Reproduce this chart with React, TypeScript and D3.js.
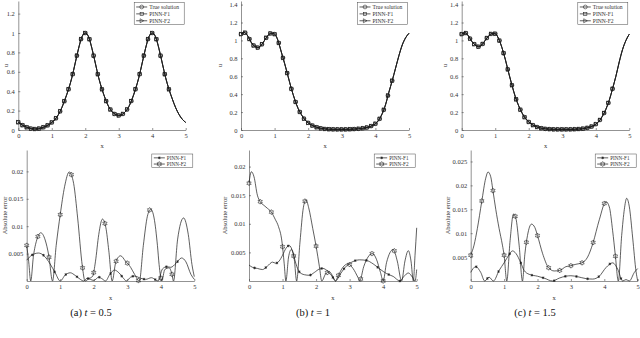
import React, { useEffect, useRef } from 'react';
import * as d3 from 'd3';

const W = 640;
const H = 338;

// sample grid for the solution curves (x = 0, 0.1, ..., 5)
const xGrid = d3.range(0, 51).map(i => i / 10);

// u(x, t) read from the top row (PINN predictions sit on top of it)
const uT05 = [
  0.08, 0.055, 0.035, 0.022, 0.013, 0.01, 0.013, 0.022, 0.035, 0.053, 0.078,
  0.11, 0.16, 0.23, 0.32, 0.42, 0.54, 0.69, 0.84, 0.96, 1.0,
  0.96, 0.84, 0.69, 0.54, 0.42, 0.32, 0.24, 0.19, 0.16, 0.15,
  0.16, 0.19, 0.24, 0.32, 0.42, 0.54, 0.69, 0.84, 0.96, 1.0,
  0.96, 0.84, 0.69, 0.54, 0.42, 0.32, 0.23, 0.16, 0.11, 0.078,
];
const uT1 = [
  1.07, 1.09, 1.05, 0.98, 0.935, 0.92, 0.945, 1.0, 1.055, 1.08, 1.07,
  1.0, 0.87, 0.74, 0.6, 0.46, 0.34, 0.24, 0.17, 0.115, 0.08,
  0.055, 0.037, 0.025, 0.017, 0.012, 0.009, 0.008, 0.007, 0.007, 0.007,
  0.007, 0.008, 0.009, 0.011, 0.014, 0.018, 0.024, 0.033, 0.048, 0.07,
  0.11, 0.18, 0.28, 0.42, 0.55, 0.69, 0.83, 0.95, 1.03, 1.08,
];
const uT15 = [
  1.07, 1.085, 1.05, 0.99, 0.95, 0.93, 0.95, 1.0, 1.05, 1.075, 1.075,
  1.02, 0.92, 0.79, 0.64, 0.5, 0.37, 0.27, 0.19, 0.13, 0.09,
  0.06, 0.04, 0.027, 0.018, 0.013, 0.01, 0.008, 0.007, 0.007, 0.007,
  0.007, 0.007, 0.008, 0.009, 0.011, 0.014, 0.02, 0.029, 0.043, 0.065,
  0.1, 0.155, 0.23, 0.33, 0.46, 0.6, 0.76, 0.9, 1.0, 1.07,
];
const uSeries = [uT05, uT1, uT15];
const uMax = [1.33, 1.44, 1.44];
const uTicks = [
  [0, 0.2, 0.4, 0.6, 0.8, 1, 1.2],
  [0, 0.2, 0.4, 0.6, 0.8, 1, 1.2, 1.4],
  [0, 0.2, 0.4, 0.6, 0.8, 1, 1.2, 1.4],
];

// absolute error, [x, error]
const errF1a: [number, number][] = [
  [0, 0.0038], [0.15, 0.0047], [0.35, 0.0051], [0.5, 0.0047], [0.7, 0.0031], [0.85, 0.0015], [1.0, 0],
  [1.15, 0.0011], [1.3, 0.0015], [1.45, 0.001], [1.6, 0.0003], [1.7, 0], [1.8, 0.0005], [1.9, 0.0003],
  [2.0, 0.0001], [2.15, 0.0007], [2.25, 0.0004], [2.35, 0], [2.48, 0.0012], [2.62, 0.002], [2.75, 0.0015],
  [2.9, 0.0004], [2.97, 0], [3.1, 0.0007], [3.22, 0.0009], [3.4, 0.0005], [3.55, 0.0003], [3.72, 0.0006],
  [3.85, 0.0002], [3.92, 0], [4.05, 0.0022], [4.18, 0.0026], [4.3, 0.0025], [4.45, 0.0032], [4.62, 0.0042],
  [4.75, 0.0035], [4.9, 0.0012], [5, 0.0003],
];
const errF2a: [number, number][] = [
  [0, 0.0065], [0.06, 0.0035], [0.12, 0], [0.2, 0.0045], [0.3, 0.0075], [0.42, 0.0088], [0.55, 0.0075],
  [0.66, 0.0046], [0.77, 0], [0.88, 0.0065], [1.0, 0.0121], [1.13, 0.0172], [1.27, 0.0199], [1.4, 0.0178],
  [1.52, 0.0115], [1.66, 0.0027], [1.74, 0], [1.85, 0.0004], [1.97, 0.0009], [2.05, 0.0035], [2.15, 0.0085],
  [2.26, 0.0113], [2.36, 0.0098], [2.45, 0.0055], [2.55, 0], [2.66, 0.0035], [2.8, 0.0046], [2.95, 0.0036],
  [3.1, 0.0025], [3.22, 0.0012], [3.36, 0], [3.48, 0.0065], [3.6, 0.0118], [3.7, 0.0131], [3.8, 0.0115],
  [3.9, 0.0065], [3.95, 0.003], [4.03, 0], [4.12, 0.0021], [4.25, 0.0024], [4.33, 0.0013], [4.38, 0],
  [4.5, 0.0075], [4.68, 0.0115], [4.82, 0.0085], [4.93, 0.003], [5, 0.0008],
];
const errF1b: [number, number][] = [
  [0, 0.0028], [0.1, 0.0024], [0.25, 0.0022], [0.4, 0.002], [0.55, 0.0026], [0.7, 0.0033], [0.8, 0.0031],
  [0.9, 0.0035], [1.0, 0.0045], [1.1, 0.0057], [1.2, 0.0062], [1.3, 0.0052], [1.4, 0.003], [1.5, 0.0016],
  [1.65, 0.0011], [1.8, 0.001], [1.95, 0.0015], [2.1, 0.0021], [2.2, 0.0022], [2.35, 0.0017], [2.48, 0.0008],
  [2.58, 0], [2.72, 0.0012], [2.9, 0.0026], [3.1, 0.0034], [3.3, 0.0037], [3.5, 0.0036], [3.7, 0.003],
  [3.9, 0.0021], [4.1, 0.0013], [4.3, 0.0008], [4.5, 0], [4.62, 0.0008], [4.75, 0.0014], [4.88, 0.0006],
  [4.95, 0], [5, 0.002],
];
const errF2b: [number, number][] = [
  [0, 0.0171], [0.07, 0.0191], [0.15, 0.0182], [0.25, 0.015], [0.33, 0.0139], [0.45, 0.0132], [0.55, 0.0127],
  [0.66, 0.0121], [0.78, 0.0108], [0.88, 0.0095], [0.98, 0.007], [1.05, 0.003], [1.1, 0], [1.18, 0.0042],
  [1.26, 0.0055], [1.35, 0.0038], [1.42, 0], [1.52, 0.0068], [1.62, 0.0128], [1.7, 0.0142], [1.78, 0.0128],
  [1.9, 0.0092], [2.0, 0.0061], [2.1, 0.0025], [2.17, 0], [2.28, 0.0012], [2.4, 0.0016], [2.5, 0.0008],
  [2.58, 0], [2.65, 0.0008], [2.8, 0.0024], [2.95, 0.003], [3.1, 0.0022], [3.25, 0.0006], [3.3, 0],
  [3.42, 0.0025], [3.55, 0.0042], [3.68, 0.0048], [3.8, 0.0038], [3.92, 0.0015], [4.0, 0], [4.1, 0.0032],
  [4.3, 0.0055], [4.42, 0.0035], [4.55, 0], [4.65, 0.0035], [4.75, 0.0053], [4.83, 0.0035], [4.9, 0],
  [4.95, 0.0045], [5, 0.0093],
];
const errF1c: [number, number][] = [
  [0, 0.0018], [0.15, 0.003], [0.3, 0.0018], [0.42, 0], [0.55, 0.0008], [0.68, 0], [0.85, 0.0022],
  [1.0, 0.0038], [1.15, 0.0055], [1.25, 0.0063], [1.35, 0.0058], [1.5, 0.0038], [1.6, 0.0022], [1.75, 0.0014],
  [2.0, 0.001], [2.2, 0.0006], [2.45, 0], [2.65, 0.0006], [2.85, 0.001], [3.0, 0.0011], [3.2, 0.0009],
  [3.45, 0.0005], [3.65, 0.0004], [3.85, 0.001], [4.05, 0.0028], [4.25, 0.0038], [4.4, 0.0025], [4.55, 0],
  [4.65, 0.0003], [4.75, 0], [4.9, 0.0018], [5, 0.0026],
];
const errF2c: [number, number][] = [
  [0, 0.0054], [0.1, 0.0075], [0.2, 0.011], [0.33, 0.0166], [0.45, 0.0215], [0.52, 0.0228], [0.6, 0.0218],
  [0.66, 0.0192], [0.75, 0.015], [0.85, 0.011], [0.95, 0.0075], [1.0, 0.0054], [1.08, 0], [1.18, 0.0085],
  [1.28, 0.014], [1.35, 0.0132], [1.45, 0.0075], [1.55, 0], [1.62, 0.0055], [1.7, 0.0095], [1.82, 0.0119],
  [1.92, 0.0112], [2.0, 0.0095], [2.15, 0.0058], [2.33, 0.0028], [2.5, 0.0021], [2.66, 0.0022], [2.85, 0.003],
  [3.0, 0.0032], [3.15, 0.0035], [3.33, 0.0038], [3.5, 0.005], [3.66, 0.0079], [3.85, 0.0128], [4.05, 0.0166],
  [4.15, 0.0155], [4.25, 0.0105], [4.33, 0.0054], [4.42, 0], [4.52, 0.0095], [4.6, 0.015], [4.67, 0.0173],
  [4.75, 0.0155], [4.85, 0.009], [4.95, 0.002], [5, 0],
];
const errF1 = [errF1a, errF1b, errF1c];
const errF2 = [errF2a, errF2b, errF2c];
const errMax = [0.0239, 0.0229, 0.0274];
const errTicks = [
  [0.005, 0.01, 0.015, 0.02],
  [0.005, 0.01, 0.015, 0.02],
  [0.005, 0.01, 0.015, 0.02, 0.025],
];

const xTicks = [0, 1, 2, 3, 4, 5];
const topMarkX = d3.range(0, 37).map(i => i * 0.125);
const f2MarkX = d3.range(0, 14).map(i => i / 3);
const f1MarkX = d3.range(0, 14).map(i => 1 / 6 + i / 3);

const topLegend = ['True solution', 'PINN-F1', 'PINN-F2'];
const bottomLegend = ['PINN-F1', 'PINN-F2'];
const panelLetters = ['(a)', '(b)', '(c)'];
const tValues = ['0.5', '1', '1.5'];

// layout (pixels)
const topBox = [
  { l: 18.3, r: 185.7, ylab: 6 },
  { l: 241, r: 409, ylab: 220 },
  { l: 461.7, r: 629.3, ylab: 445 },
];
const botBox = [
  { l: 26.7, r: 194.3, ylab: 5 },
  { l: 249, r: 416.7, ylab: 225 },
  { l: 470.7, r: 637.7, ylab: 447.7 },
];
const topY = [130, 1];
const botY = [281, 150];
const captionX = [91, 313, 535];

const INK = '#1a1a1a';
const AX = '#4a4a4a';
const TXT = '#333';
const FONT = 'Liberation Serif, DejaVu Serif, serif';

function pointAtX(path: SVGPathElement, px: number) {
  const total = path.getTotalLength();
  let lo = 0;
  let hi = total;
  for (let i = 0; i < 40; i++) {
    const mid = (lo + hi) / 2;
    if (path.getPointAtLength(mid).x < px) lo = mid;
    else hi = mid;
  }
  return path.getPointAtLength((lo + hi) / 2);
}

type G = d3.Selection<SVGGElement, unknown, null, undefined>;

function hexagram(x: number, y: number, R = 2.5, r = 1.45) {
  const pts = d3.range(12).map(k => {
    const a = -Math.PI / 2 + (k * Math.PI) / 6;
    const rr = k % 2 === 0 ? R : r;
    return [x + rr * Math.cos(a), y + rr * Math.sin(a)];
  });
  return 'M' + pts.map(p => p.join(',')).join('L') + 'Z';
}

function marker(g: G, kind: string, x: number, y: number) {
  const common = (s: any) => s.attr('fill', 'none').attr('stroke', INK).attr('stroke-width', 0.55);
  if (kind === 'circle') {
    common(g.append('circle').attr('cx', x).attr('cy', y).attr('r', 1.9));
  } else if (kind === 'square') {
    common(g.append('rect').attr('x', x - 1.6).attr('y', y - 1.6).attr('width', 3.2).attr('height', 3.2));
  } else if (kind === 'tri') {
    common(g.append('path').attr('d', `M${x - 1.6},${y - 2}L${x + 2},${y}L${x - 1.6},${y + 2}Z`));
  } else if (kind === 'hex') {
    common(g.append('path').attr('d', hexagram(x, y)));
  } else if (kind === 'ast') {
    common(
      g.append('path')
        .attr('transform', `translate(${x},${y})`)
        .attr('d', d3.symbol(d3.symbolAsterisk, 5)())
    ).attr('stroke-width', 0.7);
  }
}

function axes(g: G, x: d3.ScaleLinear<number, number>, y: d3.ScaleLinear<number, number>, yTicks: number[]) {
  const xa = g.append('g')
    .attr('transform', `translate(0,${y.range()[0]})`)
    .call(d3.axisBottom(x).tickValues(xTicks).tickSizeInner(-2).tickSizeOuter(0).tickPadding(3).tickFormat(d => String(d)));
  const ya = g.append('g')
    .attr('transform', `translate(${x.range()[0]},0)`)
    .call(d3.axisLeft(y).tickValues(yTicks).tickSizeInner(-2).tickSizeOuter(0).tickPadding(3.5).tickFormat(d => String(d)));
  [xa, ya].forEach(a => {
    a.attr('font-family', FONT).attr('font-size', 6.5);
    a.selectAll('path, line').attr('stroke', AX).attr('stroke-width', 0.6);
    a.selectAll('text').attr('fill', TXT);
  });
}

function legend(g: G, x0: number, y0: number, w: number, h: number, rows: string[], kinds: string[], rowGap: number, fs: number) {
  g.append('rect').attr('x', x0).attr('y', y0).attr('width', w).attr('height', h)
    .attr('fill', 'white').attr('stroke', AX).attr('stroke-width', 0.5);
  rows.forEach((label, i) => {
    const cy = y0 + rowGap * (i + 0.62);
    g.append('line').attr('x1', x0 + 2).attr('x2', x0 + 13).attr('y1', cy).attr('y2', cy)
      .attr('stroke', INK).attr('stroke-width', 0.7);
    marker(g, kinds[i], x0 + 7.5, cy);
    g.append('text').attr('x', x0 + 15).attr('y', cy + 1.8).text(label)
      .attr('font-family', FONT).attr('font-size', fs).attr('fill', TXT);
  });
}

export default function App() {
  const ref = useRef<SVGSVGElement>(null);

  useEffect(() => {
    const svg = d3.select(ref.current!);
    svg.selectAll('*').remove();
    const root = svg.append('g').attr('font-family', FONT) as unknown as G;

    for (let p = 0; p < 3; p++) {
      // ---- top row: solution
      const tb = topBox[p];
      const x = d3.scaleLinear().domain([0, 5]).range([tb.l, tb.r]);
      const y = d3.scaleLinear().domain([0, uMax[p]]).range(topY);
      const g = root.append('g') as unknown as G;
      axes(g, x, y, uTicks[p]);

      const line = d3.line<number>().x((_, i) => x(xGrid[i])).y(d => y(d)).curve(d3.curveMonotoneX);
      const kinds = ['circle', 'square', 'tri'];
      // true solution, PINN-F1, PINN-F2 coincide at this scale
      kinds.forEach(k => {
        const path = g.append('path').attr('d', line(uSeries[p])!)
          .attr('fill', 'none').attr('stroke', INK).attr('stroke-width', 0.8);
        const node = path.node() as SVGPathElement;
        topMarkX.forEach(mx => {
          const pt = pointAtX(node, x(mx));
          marker(g, k, pt.x, pt.y);
        });
      });
      legend(g, tb.r - 51.5, 2.7, 50, 22, topLegend, kinds, 6.9, 5.6);

      g.append('text').attr('x', (tb.l + tb.r) / 2).attr('y', 148).attr('text-anchor', 'middle')
        .attr('font-family', FONT).attr('font-size', 6.5).attr('fill', TXT).text('x');
      g.append('text').attr('transform', `translate(${tb.ylab + 2},${(topY[0] + topY[1]) / 2}) rotate(-90)`)
        .attr('text-anchor', 'middle').attr('font-family', FONT).attr('font-size', 6.5).attr('fill', TXT).text('u');

      // ---- bottom row: absolute error
      const bb = botBox[p];
      const xe = d3.scaleLinear().domain([0, 5]).range([bb.l, bb.r]);
      const ye = d3.scaleLinear().domain([0, errMax[p]]).range(botY);
      const ge = root.append('g') as unknown as G;
      axes(ge, xe, ye, errTicks[p]);

      const eline = d3.line<[number, number]>().x(d => xe(d[0])).y(d => ye(d[1])).curve(d3.curveMonotoneX);
      const series: [[number, number][], string, number[]][] = [
        [errF1[p], 'ast', f1MarkX],
        [errF2[p], 'hex', f2MarkX],
      ];
      series.forEach(([data, k, mxs]) => {
        const path = ge.append('path').attr('d', eline(data)!)
          .attr('fill', 'none').attr('stroke', INK).attr('stroke-width', 0.7);
        const node = path.node() as SVGPathElement;
        mxs.forEach(mx => {
          const pt = pointAtX(node, xe(mx));
          marker(ge, k, pt.x, pt.y);
        });
      });
      legend(ge, bb.r - 42.5, 154, 41, 13.5, bottomLegend, ['ast', 'hex'], 6.2, 5.2);

      ge.append('text').attr('x', (bb.l + bb.r) / 2).attr('y', 300).attr('text-anchor', 'middle')
        .attr('font-family', FONT).attr('font-size', 6.5).attr('fill', TXT).text('x');
      ge.append('text').attr('transform', `translate(${bb.ylab + 2},${(botY[0] + botY[1]) / 2}) rotate(-90)`)
        .attr('text-anchor', 'middle').attr('font-family', FONT).attr('font-size', 6.5).attr('fill', TXT).text('Absolute error');

      // ---- caption
      const cap = root.append('text').attr('x', captionX[p]).attr('y', 316).attr('text-anchor', 'middle')
        .attr('font-family', FONT).attr('font-size', 10.5).attr('fill', '#111');
      cap.append('tspan').text(panelLetters[p] + ' ');
      cap.append('tspan').attr('font-style', 'italic').text('t');
      cap.append('tspan').text(' = ' + tValues[p]);
    }
  }, []);

  return (
    <svg
      ref={ref}
      width={W}
      height={H}
      style={{ position: 'absolute', left: 0, top: 0, background: 'white' }}
    />
  );
}
